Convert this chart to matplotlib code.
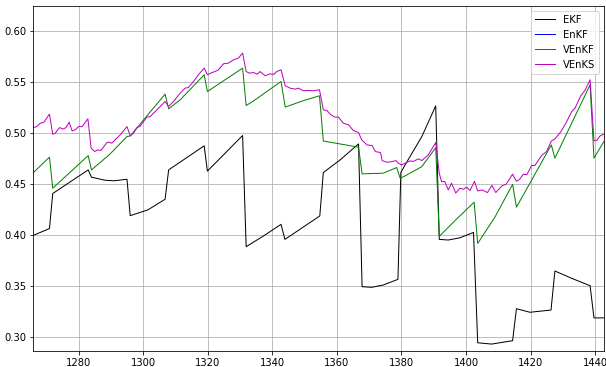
import numpy as np
import matplotlib
matplotlib.use('Agg')
import matplotlib.pyplot as plt

# RMSE over the assimilation window, one series per filter / smoother.
# Each series is kept as (time, value) vertices.
ekf_t = [1266.0, 1271.0, 1272.0, 1283.0, 1284.0, 1288.3, 1291.0, 1295.0, 1296.0, 1301.5,
         1306.8, 1307.9, 1318.9, 1319.9, 1330.8, 1331.9, 1337.3, 1342.7, 1343.9, 1354.7,
         1355.8, 1361.0, 1366.7, 1367.8, 1370.8, 1374.4, 1378.9, 1379.8, 1381.1, 1386.3,
         1390.6, 1391.7, 1394.5, 1398.0, 1402.3, 1403.6, 1407.9, 1414.4, 1415.6, 1419.8,
         1426.3, 1427.5, 1432.7, 1438.4, 1439.6, 1442.8]
ekf_v = [0.400, 0.4066, 0.441, 0.4642, 0.457, 0.4540, 0.4535, 0.455, 0.4193, 0.4250,
         0.4354, 0.4642, 0.4878, 0.463, 0.4979, 0.3889, 0.3994, 0.4108, 0.396, 0.419,
         0.4616, 0.474, 0.4897, 0.3496, 0.349, 0.3513, 0.3568, 0.4616, 0.4690, 0.4969,
         0.527, 0.396, 0.3954, 0.3975, 0.4028, 0.2946, 0.2933, 0.2966, 0.328, 0.3245,
         0.3267, 0.365, 0.3578, 0.3506, 0.319, 0.319]

venkf_t = [1266.0, 1271.0, 1272.0, 1283.0, 1284.0, 1289.5, 1295.0, 1296.0, 1300.6, 1306.8,
           1307.9, 1311.5, 1318.9, 1319.9, 1330.8, 1331.9, 1334.7, 1342.7, 1344.0, 1349.5,
           1354.6, 1355.8, 1366.7, 1367.8, 1374.4, 1378.5, 1379.6, 1381.1, 1386.3, 1390.6,
           1391.7, 1397.0, 1402.5, 1403.6, 1409.0, 1414.4, 1415.6, 1426.4, 1427.5, 1438.4,
           1439.6, 1442.8]
venkf_v = [0.4615, 0.4767, 0.4462, 0.4782, 0.4642, 0.479, 0.4969, 0.4975, 0.515, 0.5385,
           0.5241, 0.533, 0.5575, 0.5411, 0.564, 0.5273, 0.533, 0.5509, 0.5258, 0.532,
           0.5369, 0.4925, 0.4865, 0.4603, 0.461, 0.4665, 0.456, 0.4583, 0.4674, 0.486,
           0.399, 0.4158, 0.4325, 0.392, 0.4183, 0.450, 0.4276, 0.4887, 0.4757, 0.5477,
           0.4757, 0.4927]

# EnKF has no values in this window, it only shows up in the legend
enkf_t = []
enkf_v = []

venks_t = [1266.0, 1267.1, 1268.1, 1269.2, 1271.0, 1272.0, 1272.8, 1274.1, 1275.2, 1276.1,
           1277.1, 1278.0, 1279.0, 1280.0, 1281.1, 1282.9, 1283.9, 1285.0, 1285.9, 1286.9,
           1288.8, 1289.3, 1290.3, 1292.9, 1295.0, 1296.0, 1297.0, 1298.1, 1299.1, 1300.1,
           1301.2, 1302.2, 1303.7, 1305.3, 1306.8, 1307.9, 1309.4, 1311.5, 1313.0, 1314.0,
           1315.6, 1317.1, 1318.9, 1319.9, 1321.3, 1322.3, 1323.3, 1324.9, 1326.4, 1328.0,
           1329.5, 1330.8, 1331.9, 1332.9, 1334.2, 1335.4, 1336.2, 1337.8, 1339.3, 1340.4,
           1341.4, 1342.7, 1344.0, 1345.5, 1347.1, 1348.1, 1349.6, 1351.2, 1352.7, 1354.6,
           1355.8, 1356.9, 1358.2, 1359.4, 1360.5, 1362.0, 1363.6, 1365.1, 1366.7, 1367.7,
           1369.3, 1370.9, 1371.9, 1373.5, 1374.0, 1375.5, 1377.0, 1378.3, 1379.0, 1380.1,
           1381.1, 1382.7, 1383.7, 1385.2, 1386.3, 1388.3, 1390.6, 1391.7, 1392.4, 1393.4,
           1394.5, 1395.5, 1396.8, 1398.1, 1399.2, 1400.2, 1401.2, 1402.6, 1403.6, 1404.9,
           1405.6, 1406.6, 1408.0, 1409.2, 1411.1, 1412.4, 1414.4, 1415.6, 1416.6, 1417.7,
           1418.8, 1420.3, 1421.3, 1423.4, 1424.9, 1426.4, 1427.5, 1429.3, 1430.9, 1432.7,
           1433.7, 1435.5, 1436.8, 1438.4, 1439.6, 1440.6, 1441.5, 1442.8]
venks_v = [0.5057, 0.5067, 0.510, 0.5107, 0.5189, 0.4992, 0.5002, 0.5057, 0.5042, 0.5057,
           0.511, 0.5025, 0.5035, 0.5067, 0.5067, 0.5143, 0.4855, 0.4822, 0.4838, 0.4832,
           0.491, 0.4915, 0.4904, 0.4986, 0.5067, 0.4975, 0.5002, 0.5057, 0.507, 0.5116,
           0.516, 0.5165, 0.5214, 0.5264, 0.5313, 0.5264, 0.5313, 0.5395, 0.5444, 0.545,
           0.5509, 0.5575, 0.564, 0.5575, 0.5597, 0.5607, 0.5624, 0.5683, 0.5689, 0.5722,
           0.5739, 0.5788, 0.5607, 0.5591, 0.5597, 0.5581, 0.5607, 0.5565, 0.5584, 0.5578,
           0.5607, 0.5624, 0.5467, 0.5444, 0.5434, 0.5444, 0.5418, 0.5421, 0.5418, 0.5428,
           0.5231, 0.5224, 0.5182, 0.5159, 0.5159, 0.510, 0.5084, 0.5028, 0.5008, 0.4936,
           0.4887, 0.488, 0.4822, 0.4812, 0.4733, 0.4717, 0.4723, 0.4733, 0.4708, 0.4691,
           0.4708, 0.473, 0.4725, 0.475, 0.4734, 0.4789, 0.491, 0.4609, 0.4527, 0.4527,
           0.4445, 0.4511, 0.4415, 0.4462, 0.4452, 0.4472, 0.4439, 0.453, 0.4435, 0.4445,
           0.4436, 0.4419, 0.449, 0.442, 0.4485, 0.4501, 0.460, 0.453, 0.455, 0.460,
           0.4595, 0.4685, 0.4685, 0.4784, 0.482, 0.4925, 0.4946, 0.5015, 0.510, 0.5214,
           0.5245, 0.5369, 0.5421, 0.5526, 0.4927, 0.4935, 0.4976, 0.4995]

fig = plt.figure(figsize=(606 / 72, 367 / 72), dpi=72)
ax = fig.add_axes([0.055, 0.0444, 0.9422, 0.9393])

ax.plot(ekf_t, ekf_v, color='k', lw=1, label='EKF')
ax.plot(enkf_t, enkf_v, color='b', lw=1, label='EnKF')
ax.plot(venkf_t, venkf_v, color='g', lw=1, label='VEnKF')
ax.plot(venks_t, venks_v, color='m', lw=1, label='VEnKS')

ax.set_xlim(1266.0, 1442.8)
ax.set_ylim(0.2868, 0.625)
ax.set_xticks(np.arange(1280, 1441, 20))
ax.set_yticks(np.arange(0.30, 0.601, 0.05))
ax.grid(True)
ax.legend(loc='upper right')

fig.savefig('out.png', dpi=72)
